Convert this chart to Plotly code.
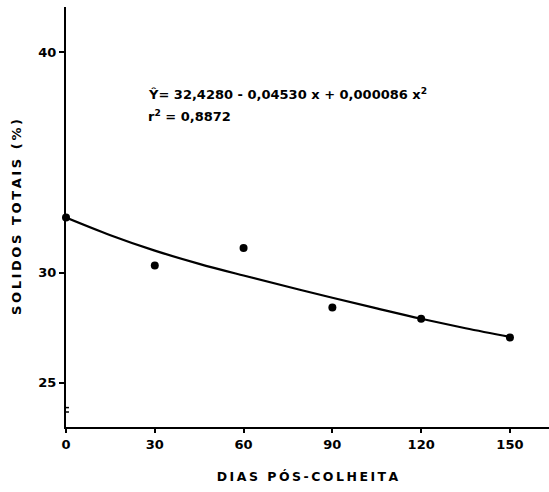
import plotly.graph_objects as go

# observed data points
days = [0, 30, 60, 90, 120, 150]
solids = [32.5, 30.32, 31.12, 28.42, 27.91, 27.06]

# fitted curve
curve_x = [0, 15, 30, 45, 60, 75, 90, 105, 120, 135, 150]
curve_y = [32.5, 31.7, 31.0, 30.4, 29.87, 29.36, 28.86, 28.38, 27.91, 27.48, 27.09]

x_ticks = [0, 30, 60, 90, 120, 150]
y_ticks = [25, 30, 40]

FONT = "DejaVu Sans"
thin = "\u2009"

fig = go.Figure()
fig.add_trace(go.Scatter(x=curve_x, y=curve_y, mode="lines",
                         line=dict(color="black", width=2.2, shape="spline", smoothing=1.0),
                         showlegend=False, hoverinfo="skip"))
fig.add_trace(go.Scatter(x=days, y=solids, mode="markers",
                         marker=dict(color="black", size=8),
                         showlegend=False, cliponaxis=False))

# axis break marks
for yb in [23.88, 23.68]:
    fig.add_shape(type="line", x0=-1.0, x1=1.0, y0=yb, y1=yb,
                  xref="x", yref="y", line=dict(color="black", width=1.5))

fig.add_annotation(x=27, y=38.1, xref="x", yref="y", xanchor="left", yanchor="middle",
                   text="<b>Ŷ= 32,4280 - 0,04530 x + 0,000086 x<sup>2</sup></b>",
                   showarrow=False, font=dict(family=FONT, size=13, color="black"))
fig.add_annotation(x=27, y=37.1, xref="x", yref="y", xanchor="left", yanchor="middle",
                   text="<b>r<sup>2</sup> = 0,8872</b>",
                   showarrow=False, font=dict(family=FONT, size=13, color="black"))

xtitle = thin.join(list("DIAS PÓS-COLHEITA"))
ytitle = thin.join(list("SOLIDOS TOTAIS (%)"))

fig.update_layout(
    width=549, height=492,
    margin=dict(l=66, r=0, t=7, b=65),
    plot_bgcolor="white", paper_bgcolor="white",
    font=dict(family=FONT, color="black"),
    xaxis=dict(range=[0, 163.2], tickvals=x_ticks,
               ticktext=["<b>" + str(v) + "</b>" for v in x_ticks],
               showline=True, linecolor="black", linewidth=2,
               ticks="outside", ticklen=4, tickwidth=1.5, tickcolor="black",
               showgrid=False, zeroline=False,
               tickfont=dict(family=FONT, size=13, color="black"),
               title=dict(text="<b>" + xtitle + "</b>", standoff=22,
                          font=dict(family=FONT, size=12.5, color="black"))),
    yaxis=dict(range=[23.0, 42.05], tickvals=y_ticks,
               ticktext=["<b>" + str(v) + "</b>" for v in y_ticks],
               showline=True, linecolor="black", linewidth=2,
               ticks="outside", ticklen=5, tickwidth=1.5, tickcolor="black",
               showgrid=False, zeroline=False,
               tickfont=dict(family=FONT, size=13, color="black"),
               title=dict(text="<b>" + ytitle + "</b>", standoff=14,
                          font=dict(family=FONT, size=13, color="black"))),
)

fig.write_html("out.html")
